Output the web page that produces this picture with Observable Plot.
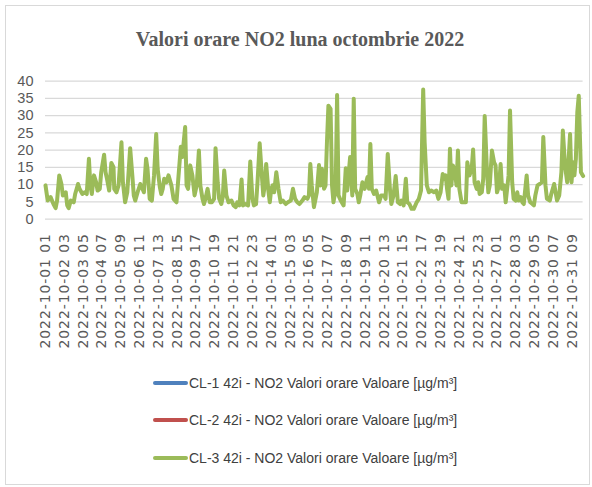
<!DOCTYPE html>
<html><head><meta charset="utf-8">
<script src="https://cdn.jsdelivr.net/npm/d3@7"></script>
<script src="https://cdn.jsdelivr.net/npm/@observablehq/plot@0.6"></script>
<style>
html,body{margin:0;padding:0;background:#fff;width:592px;height:487px;overflow:hidden;}
#frame{position:absolute;left:5px;top:5px;width:585px;height:480px;border:1px solid #d9d9d9;box-sizing:border-box;}
#title{position:absolute;left:0;top:29px;width:600px;text-align:center;font:bold 20px "Liberation Serif";color:#595959;line-height:20px;}
#chart{position:absolute;left:0;top:60px;}
.leg{position:absolute;left:153px;font:14px "Liberation Sans";color:#404040;display:flex;align-items:center;height:20px;white-space:nowrap;}
.sw{display:inline-block;width:35px;height:4px;border-radius:2px;margin-right:1px;}
</style></head><body>
<div id="frame"></div>
<div id="title">Valori orare NO2 luna octombrie 2022</div>
<div id="chart"></div>
<div id="legend"></div>
<script>
// hour offsets from 2022-10-01 01:00 and hourly NO2 values (µg/m³) of CL-3
const hours = [0,3,7,11,14,16,19,22,24,28,30,32,35,39,41,45,47,51,54,57,60,62,64,67,70,72,75,77,81,83,85,88,91,94,95,98,101,105,107,110,113,117,120,122,124,128,131,134,136,139,141,144,147,150,153,155,158,160,162,164,167,170,174,177,
181,187,189,193,195,197,200,203,206,209,212,214,217,219,221,224,227,230,233,235,238,240,243,245,247,250,253,257,260,263,265,268,271,273,276,280,283,286,288,291,293,296,299,301,303,305,308,310,312,314,316,319,322,325,328,332,335,339,342,345,348,351,355,358,362,364,366,368,
371,375,378,380,382,385,387,389,391,394,396,398,401,403,405,408,412,415,417,421,424,426,428,431,433,435,438,441,445,447,449,451,454,457,461,464,468,470,473,476,478,481,484,487,490,492,495,498,500,503,506,509,513,516,519,522,524,527,530,533,537,540,543,546,549,551,
553,555,557,559,561,563,566,568,570,572,575,578,581,583,586,589,591,593,596,598,600,603,605,607,610,612,614,617,620,622,624,627,629,631,634,636,638,640,642,645,647,650,652,654,657,659,661,665,667,670,673,675,677,680,683,686,688,691,693,697,699,703,705,707,710,713,715,718,721,722,725,727,729,731,733,735,737,740,743];
const no2 = [9.8,5.4,6.4,4.4,3.2,5.4,12.7,10.2,6.9,7.8,4.0,3.2,5.4,4.9,7.3,10.2,8.8,7.3,7.8,7.3,17.5,9.8,7.3,12.7,10.7,8.3,8.8,13.6,18.7,13.6,11.7,8.3,16.3,15.1,8.8,7.8,9.8,22.3,10.7,4.9,7.8,20.6,12.7,6.9,5.4,8.3,10.2,8.8,7.8,17.5,14.6,5.9,5.4,12.7,24.7,14.6,9.3,7.3,8.8,11.7,10.7,12.7,9.8,5.9,
4.9,21.0,18.0,26.7,9.8,8.8,15.6,12.7,6.9,9.8,19.9,9.8,5.9,4.4,5.9,8.8,4.9,4.9,5.9,20.6,10.7,5.9,4.4,6.4,14.1,6.9,4.9,5.4,4.0,3.5,4.9,4.0,11.5,4.0,4.4,4.0,16.7,5.9,4.0,4.4,10.7,22.0,12.7,6.9,9.8,16.0,8.3,4.9,8.8,9.8,7.8,13.6,8.8,4.9,5.4,4.4,4.9,5.4,8.8,5.9,4.9,4.4,5.4,6.4,5.9,6.9,16.0,9.8,
3.5,7.8,15.7,9.8,14.6,8.8,9.8,22.3,32.9,32.0,9.8,4.9,8.8,36.0,6.9,5.4,4.0,14.8,8.3,18.0,6.9,34.9,8.8,7.3,4.9,6.9,10.7,8.8,12.2,8.8,21.8,8.8,7.3,8.3,4.9,6.9,6.9,5.9,18.9,8.8,4.4,6.9,12.5,4.9,4.4,5.4,4.0,11.7,4.9,4.4,3.0,3.0,4.9,5.9,8.3,37.6,22.3,9.8,7.8,8.3,7.8,8.3,5.9,7.8,13.1,11.7,
12.7,8.8,5.9,20.4,9.8,15.6,13.6,9.8,19.9,8.8,4.9,4.9,4.9,16.5,12.7,14.6,20.2,10.7,8.8,10.7,7.3,7.8,11.7,29.9,14.6,7.8,9.8,19.9,16.5,15.6,7.8,9.8,16.0,8.8,9.8,4.9,8.8,12.7,31.5,10.7,5.9,5.4,7.8,5.4,6.4,4.9,4.4,12.7,6.9,4.9,4.4,4.0,6.9,9.8,10.2,10.7,23.8,9.8,5.9,5.4,7.3,10.2,7.8,5.4,6.9,13.6,25.7,15.6,10.7,13.6,24.7,10.7,16.5,12.7,17.5,31.0,35.8,13.6,12.5];
const yTicks = [0,5,10,15,20,25,30,35,40];
const tickLabels = ["2022-10-01 01","2022-10-02 03","2022-10-03 05","2022-10-04 07","2022-10-05 09","2022-10-06 11","2022-10-07 13","2022-10-08 15","2022-10-09 17","2022-10-10 19","2022-10-11 21","2022-10-12 23","2022-10-14 01","2022-10-15 03","2022-10-16 05","2022-10-17 07","2022-10-18 09","2022-10-19 11","2022-10-20 13","2022-10-21 15","2022-10-22 17","2022-10-23 19","2022-10-24 21","2022-10-25 23","2022-10-27 01","2022-10-28 03","2022-10-29 05","2022-10-30 07","2022-10-31 09"];
const seriesNames = ["CL-1 42i - NO2 Valori orare Valoare [µg/m³]","CL-2 42i - NO2 Valori orare Valoare [µg/m³]","CL-3 42i - NO2 Valori orare Valoare [µg/m³]"];
const seriesColors = ["#4f81bd","#c0504d","#9bbb59"];

const t0 = Date.UTC(2022, 9, 1, 1);
const toHour = s => (Date.UTC(+s.slice(0,4), +s.slice(5,7)-1, +s.slice(8,10), +s.slice(11,13)) - t0) / 3600000;
const tickHours = tickLabels.map(toHour);
const labelByHour = new Map(tickHours.map((h,i)=>[h, tickLabels[i]]));
const data = hours.map((h,i)=>({h, v: no2[i]}));

const chart = Plot.plot({
  width: 592, height: 300,
  marginTop: 20.7, marginBottom: 141.3, marginLeft: 45, marginRight: 9.4,
  x: {domain: [0, 743]},
  y: {domain: [0, 40]},
  style: {background: "transparent", overflow: "visible"},
  marks: [
    Plot.ruleY(yTicks, {stroke: "#d9d9d9", strokeWidth: 1.3}),
    Plot.axisY({ticks: yTicks, tickSize: 0, tickPadding: 12, fontSize: 14.5, fontFamily: "Liberation Sans", fill: "#595959", label: null}),
    Plot.axisX({ticks: tickHours, tickFormat: d => labelByHour.get(d), tickRotate: -90, tickSize: 0, tickPadding: 14, fontSize: 14, fontFamily: "DejaVu Sans", fill: "#595959", label: null}),
    Plot.line(data, {x: "h", y: "v", stroke: seriesColors[2], strokeWidth: 4, strokeLinejoin: "round", strokeLinecap: "round"})
  ]
});
document.getElementById("chart").appendChild(chart);
chart.querySelectorAll('[aria-label="x-axis tick label"] text').forEach(t => t.style.letterSpacing = "0.9px");

const legend = document.getElementById("legend");
const rowY = [383, 420, 458];
seriesNames.forEach((name, i) => {
  const row = document.createElement("div");
  row.className = "leg";
  row.style.top = (rowY[i] - 10) + "px";
  const sw = document.createElement("span");
  sw.className = "sw";
  sw.style.background = seriesColors[i];
  row.appendChild(sw);
  row.appendChild(document.createTextNode(name));
  legend.appendChild(row);
});
</script>
</body></html>
